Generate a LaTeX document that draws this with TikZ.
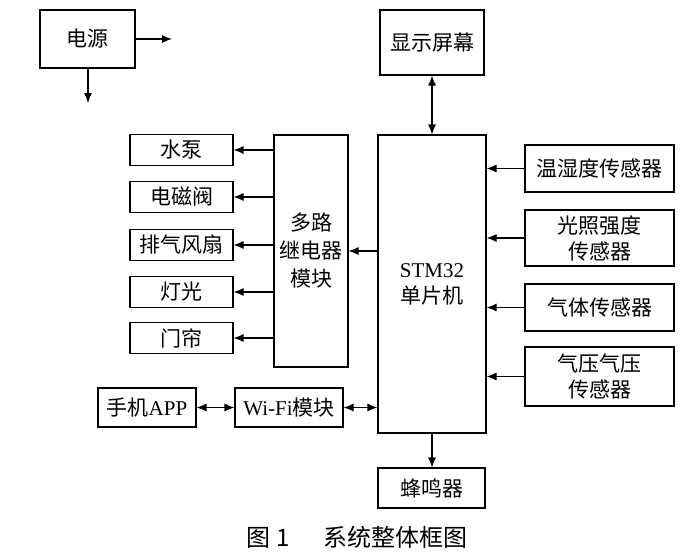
\documentclass[tikz,border=0pt]{standalone}
\usepackage{fontspec}
\setmainfont{Liberation Serif}
\newfontfamily\cjk{Noto Sans CJK SC}
\usetikzlibrary{positioning,arrows.meta,calc}
\newcommand{\lat}[1]{{\rmfamily #1}}

\tikzset{
  blk/.style={draw,line width=1.1pt,inner sep=0pt,align=center,
    font=\cjk\fontsize{21}{26}\selectfont},
  arr/.style={line width=1.1pt,-{Latex[length=10pt,width=8pt]}},
  biarr/.style={line width=1.1pt,{Latex[length=10pt,width=8pt]}-{Latex[length=10pt,width=8pt]}}
}

\begin{document}
\begin{tikzpicture}[x=1pt,y=-1pt]
\useasboundingbox (0,0) rectangle (700,555);
% power supply and display
\node[blk,minimum width=95pt,minimum height=58pt] (power) at (87.5,39) {电源};
\coordinate (pwrR) at (172,39);
\coordinate (pwrD) at (88,103);
\draw[arr] (power.east) -- (pwrR);
\draw[arr] (power.south -| pwrD) -- (pwrD);
\node[blk,minimum width=104pt,minimum height=65pt] (disp) at (432,42.5) {显示屏幕};
% controller
\node[blk,minimum width=108pt,minimum height=298pt] (mcu) at (432,284) {\lat{STM32}\\单片机};
\draw[biarr] (disp.south) -- (mcu.north);
% relay and loads
\node[blk,minimum width=74pt,minimum height=232pt,font=\cjk\fontsize{21}{28}\selectfont] (relay) at (311,251) {多路\\继电器\\模块};
\draw[arr] (mcu.west |- relay.east) -- (relay.east);
\foreach \name/\yy/\txt in {pump/150/水泵,valve/197/电磁阀,fan/245/排气风扇,lamp/292/灯光,curtain/338/门帘}{
  \node[blk,minimum width=103pt,minimum height=31pt] (\name) at (181.5,\yy) {\txt};
  \draw[arr] (relay.west |- \name.east) -- (\name.east);
}
% sensors
\node[blk,minimum width=149pt,minimum height=47pt] (th) at (599.5,168.5) {温湿度传感器};
\node[blk,minimum width=149pt,minimum height=56pt] (light) at (599.5,238) {光照强度\\传感器};
\node[blk,minimum width=149pt,minimum height=47pt] (gas) at (599.5,307.5) {气体传感器};
\node[blk,minimum width=149pt,minimum height=59pt] (press) at (599.5,376.5) {气压气压\\传感器};
\foreach \name in {th,light,gas,press}{
  \draw[arr] (\name.west) -- (mcu.east |- \name.west);
}
% wireless link
\node[blk,minimum width=98pt,minimum height=39pt] (app) at (147,407.5) {手机\lat{APP}};
\node[blk,minimum width=108pt,minimum height=39pt] (wifi) at (289,407.5) {\lat{Wi-Fi}模块};
\draw[biarr] (app.east) -- (wifi.west);
\draw[biarr] (wifi.east) -- (mcu.west |- wifi.east);
% buzzer
\node[blk,minimum width=107pt,minimum height=40pt] (buzz) at (431.5,488) {蜂鸣器};
\draw[arr] (mcu.south) -- (mcu.south |- buzz.north);
% caption
\node[font=\cjk\fontsize{24}{28}\selectfont] (cap) at (357,537) {图 1\hspace{1.4em}系统整体框图};
\end{tikzpicture}
\end{document}
